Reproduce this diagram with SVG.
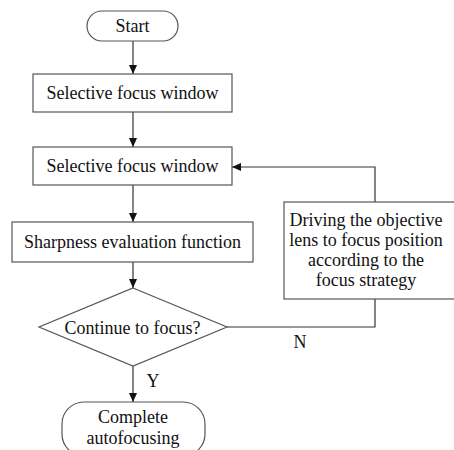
<svg xmlns="http://www.w3.org/2000/svg" width="454" height="450" viewBox="0 0 454 450">
<style>
.shape{fill:#fff;stroke:#555;stroke-width:1.2}
.line{fill:none;stroke:#333;stroke-width:1.2}
.t{font-family:'Liberation Serif','Times New Roman',Times,serif;font-size:18px;fill:#111;text-anchor:middle}
</style>
<defs>
<marker id="arr" markerWidth="10" markerHeight="10" refX="9" refY="4" orient="auto" markerUnits="userSpaceOnUse">
<path d="M0,0 L9,4 L0,8 Z" fill="#111"/>
</marker>
</defs>
<rect width="454" height="450" fill="#fff"/>
<g id="connectors">
<line class="line" x1="133" y1="41" x2="133" y2="74" marker-end="url(#arr)"/>
<line class="line" x1="133" y1="112" x2="133" y2="147" marker-end="url(#arr)"/>
<line class="line" x1="133" y1="185" x2="133" y2="222" marker-end="url(#arr)"/>
<line class="line" x1="133" y1="262" x2="133" y2="288" marker-end="url(#arr)"/>
<line class="line" x1="133" y1="366" x2="133" y2="402" marker-end="url(#arr)"/>
<polyline class="line" points="227,327 375,327 375,299"/>
<polyline class="line" points="375,202 375,167 232,167" marker-end="url(#arr)"/>
<text class="t" x="300" y="348">N</text>
<text class="t" x="153" y="387">Y</text>
</g>
<g id="start">
<rect class="shape" x="87" y="11" width="91" height="30" rx="15"/>
<text class="t" x="132.5" y="32">Start</text>
</g>
<g id="select1">
<rect class="shape" x="33" y="74" width="199" height="38"/>
<text class="t" x="132.5" y="99">Selective focus window</text>
</g>
<g id="select2">
<rect class="shape" x="33" y="147" width="199" height="38"/>
<text class="t" x="132.5" y="172">Selective focus window</text>
</g>
<g id="sharpness">
<rect class="shape" x="12" y="222" width="241" height="40"/>
<text class="t" x="132.5" y="248">Sharpness evaluation function</text>
</g>
<g id="decision">
<polygon class="shape" points="133,288 227,327 133,366 39,327"/>
<text class="t" x="132.5" y="334">Continue to focus?</text>
</g>
<g id="drive">
<rect class="shape" x="284" y="202" width="175" height="97"/>
<text class="t" x="366" y="226">Driving the objective</text>
<text class="t" x="366" y="246">lens to focus position</text>
<text class="t" x="366" y="266">according to the</text>
<text class="t" x="366" y="286">focus strategy</text>
</g>
<g id="complete">
<rect class="shape" x="62" y="402" width="143" height="54" rx="22"/>
<text class="t" x="133" y="423">Complete</text>
<text class="t" x="133" y="444">autofocusing</text>
</g>
</svg>
